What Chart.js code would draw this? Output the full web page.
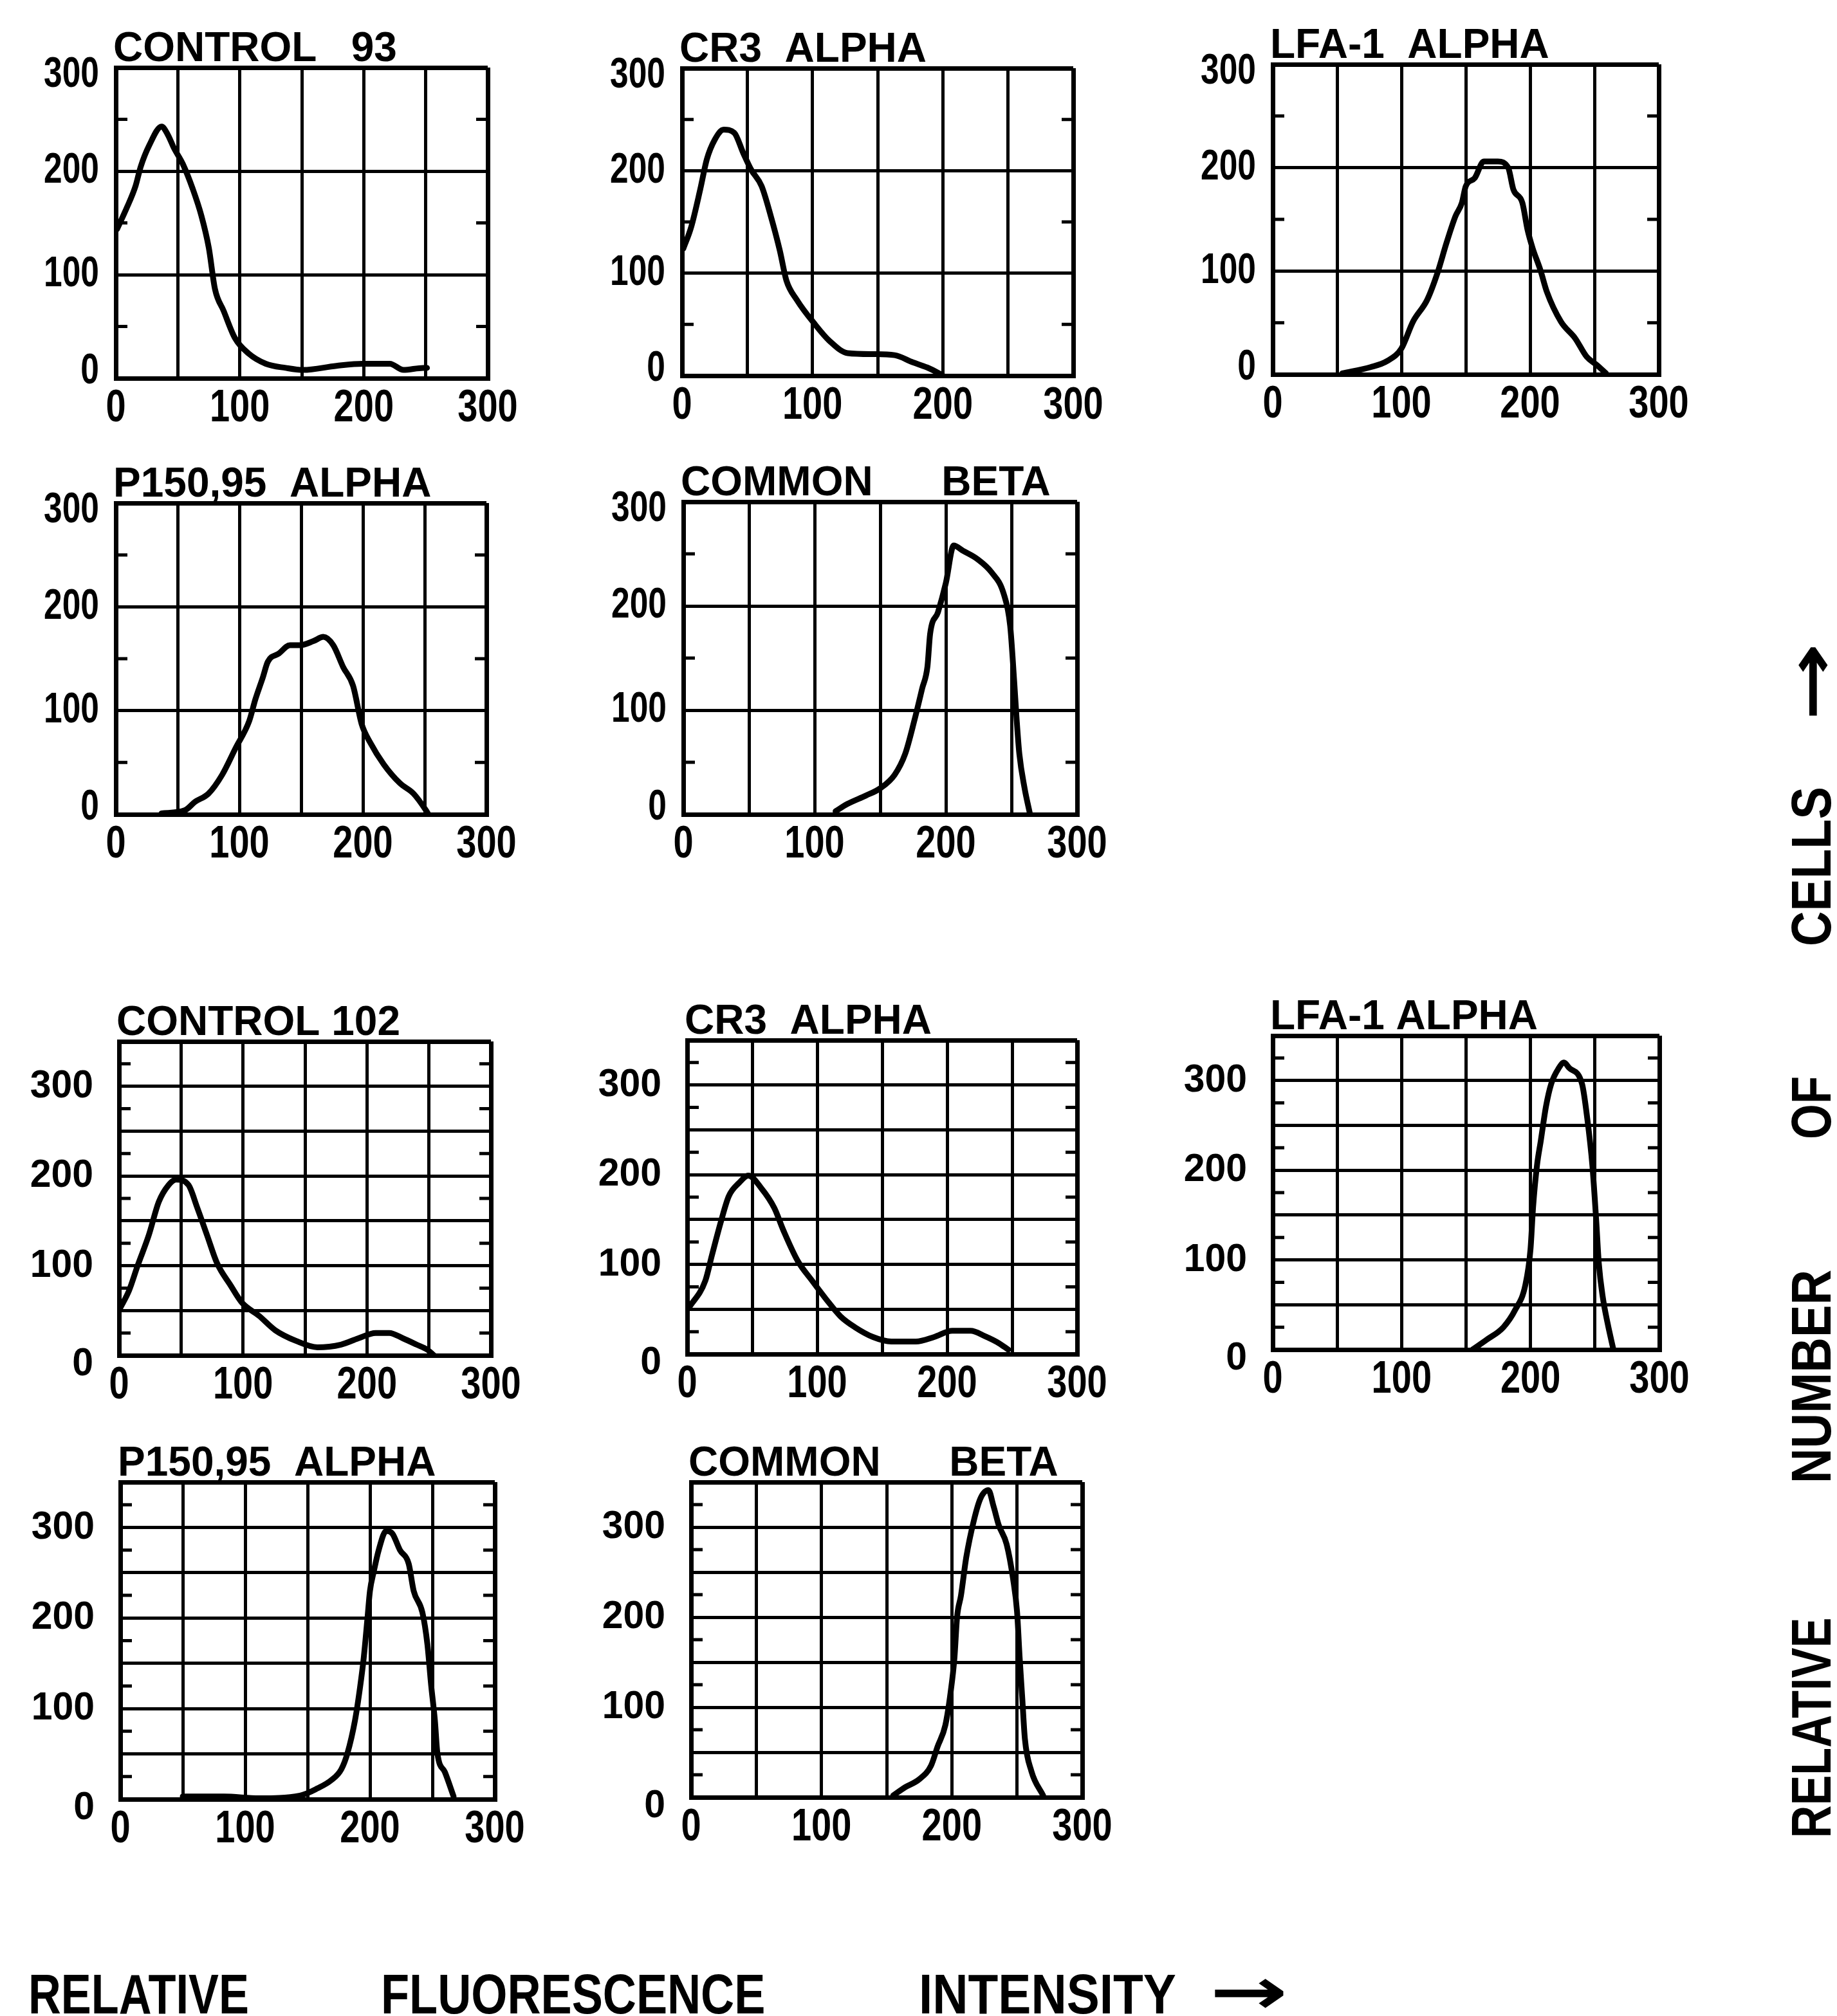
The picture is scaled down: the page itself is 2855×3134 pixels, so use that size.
<!DOCTYPE html>
<html>
<head>
<meta charset="utf-8">
<script src="https://cdn.jsdelivr.net/npm/chart.js@4.4.1/dist/chart.umd.min.js"></script>
<style>
html,body{margin:0;padding:0;background:#fff;}
body{width:2855px;height:3134px;position:relative;overflow:hidden;}
canvas.panel{position:absolute;}
.lbl{position:absolute;font-family:'Liberation Sans',Arial,sans-serif;font-weight:bold;font-size:88px;line-height:1;color:#000;white-space:nowrap;}
.h{transform-origin:0 50%;transform:translate(0,-50%) scaleX(0.8);}
.h.wide{transform:translate(0,-50%) scaleX(0.87);}
.h.mid{transform:translate(0,-50%) scaleX(0.82);}
.v{transform:translate(-50%,-50%) rotate(-90deg) scaleX(0.8);}
.v.wide{transform:translate(-50%,-50%) rotate(-90deg) scaleX(0.86);}
.arrow{font-family:'DejaVu Sans',sans-serif;font-weight:bold;font-size:100px;}
.h.arrow{transform:translate(0,-50%) scaleX(1.45);}
.v.arrow{transform:translate(-50%,-50%) rotate(-90deg) scaleX(1.45);}
</style>
</head>
<body>
<script>
// ---------- DATA ----------
const panelTitles = [
  'CONTROL   93', 'CR3  ALPHA', 'LFA-1  ALPHA', 'P150,95  ALPHA', 'COMMON      BETA',
  'CONTROL 102', 'CR3  ALPHA', 'LFA-1 ALPHA', 'P150,95  ALPHA', 'COMMON      BETA'
];
const xTickLabels = ['0', '100', '200', '300'];
const yTickLabels = ['0', '100', '200', '300'];
const yMaxTop = 300;      // first experiment panels
const yMaxBottom = 350;   // second experiment panels
const minorTop = [50, 150, 250];
const minorBottom = [25, 75, 125, 175, 225, 275, 325];

const control93X = [1, 9, 16, 20, 27, 37, 42, 47, 54, 62, 69, 75, 80, 87, 96, 107, 121, 137, 151, 178, 199, 221, 232, 248, 251];
const control93Y = [144, 165, 186, 204, 225, 243, 235, 222, 207, 183, 157, 126, 86, 65, 39, 24, 14, 10, 8, 12, 14, 14, 8, 10, 10];

const cr3TopX = [1, 7, 14, 19, 25, 32, 40, 47, 53, 61, 68, 75, 80, 88, 102, 113, 127, 147, 163, 177, 188, 196, 200];
const cr3TopY = [124, 145, 182, 211, 230, 240, 237, 217, 201, 185, 156, 122, 93, 74, 50, 34, 22, 21, 20, 13, 8, 3, 0];

const lfa1TopX = [54, 76, 89, 100, 109, 120, 128, 135, 142, 147, 150, 157, 164, 175, 183, 187, 194, 198, 202, 208, 213, 224, 235, 244, 252, 259];
const lfa1TopY = [1, 7, 13, 25, 51, 72, 98, 127, 153, 166, 182, 190, 206, 206, 200, 179, 166, 140, 122, 101, 80, 51, 35, 17, 9, 1];

const p150TopX = [37, 56, 64, 75, 86, 97, 108, 113, 119, 123, 132, 141, 149, 160, 168, 176, 184, 192, 199, 206, 217, 230, 241, 251, 253];
const p150TopY = [1, 4, 12, 20, 38, 64, 90, 111, 132, 147, 155, 163, 163, 167, 171, 163, 142, 124, 87, 69, 48, 30, 20, 4, 0];

const betaTopX = [116, 125, 139, 150, 161, 169, 176, 182, 186, 188, 194, 200, 206, 213, 224, 235, 244, 249, 252, 254, 256, 260, 264];
const betaTopY = [3, 10, 18, 25, 38, 58, 90, 121, 142, 173, 194, 222, 258, 253, 245, 232, 212, 181, 129, 90, 58, 25, 1];

const control102X = [1, 8, 15, 24, 32, 40, 46, 56, 63, 71, 79, 90, 99, 113, 126, 143, 160, 179, 193, 207, 218, 229, 240, 249, 254];
const control102Y = [53, 72, 100, 134, 171, 190, 196, 190, 165, 134, 103, 78, 59, 44, 28, 16, 9, 12, 19, 25, 25, 19, 12, 6, 0];

const cr3BotX = [1, 14, 19, 26, 32, 40, 47, 57, 67, 74, 85, 96, 107, 118, 129, 143, 157, 176, 190, 204, 218, 229, 240, 247];
const cr3BotY = [51, 82, 110, 148, 176, 191, 199, 185, 163, 138, 104, 82, 61, 42, 30, 19, 14, 14, 19, 26, 26, 20, 12, 5];

const lfa1BotX = [155, 166, 179, 188, 196, 200, 202, 205, 208, 212, 216, 222, 226, 230, 240, 244, 248, 251, 253, 256, 260, 264];
const lfa1BotY = [0, 11, 25, 44, 72, 112, 159, 205, 233, 271, 296, 314, 320, 314, 296, 258, 205, 143, 96, 59, 28, 2];

const p150BotX = [50, 83, 111, 144, 158, 169, 177, 182, 188, 192, 195, 198, 200, 203, 207, 213, 218, 224, 231, 235, 242, 246, 249, 252, 254, 260, 267];
const p150BotY = [3, 3, 1, 4, 12, 21, 33, 51, 87, 123, 156, 200, 230, 251, 275, 296, 293, 275, 260, 230, 206, 171, 126, 87, 51, 30, 3];

const betaBotX = [155, 164, 175, 184, 189, 195, 199, 202, 204, 207, 211, 217, 222, 228, 232, 236, 242, 247, 250, 252, 254, 256, 261, 270];
const betaBotY = [2, 11, 20, 35, 56, 80, 116, 155, 200, 224, 266, 308, 332, 341, 323, 302, 281, 242, 206, 155, 110, 65, 29, 2];

const seriesX = [control93X, cr3TopX, lfa1TopX, p150TopX, betaTopX, control102X, cr3BotX, lfa1BotX, p150BotX, betaBotX];
const seriesY = [control93Y, cr3TopY, lfa1TopY, p150TopY, betaTopY, control102Y, cr3BotY, lfa1BotY, p150BotY, betaBotY];

// ---------- LAYOUT (plot box in page pixels: left, top, right, bottom) ----------
const boxes = [
  [180, 105, 758, 588], [1060, 106, 1668, 584], [1978, 100, 2578, 582],
  [180, 782, 756, 1266], [1062, 780, 1674, 1266],
  [185, 1619, 763, 2107], [1068, 1617, 1674, 2105], [1978, 1610, 2579, 2098],
  [187, 2304, 769, 2797], [1074, 2304, 1682, 2794]
];

const FONT = "'Liberation Sans', Arial, sans-serif";

const titlePlugin = {
  id: 'panelTitle',
  afterDraw(chart, args, opts) {
    const {ctx, chartArea: a} = chart;
    ctx.save();
    ctx.fillStyle = '#000';
    ctx.font = 'bold 64px ' + FONT;
    ctx.textAlign = 'left';
    ctx.textBaseline = 'alphabetic';
    ctx.fillText(opts.text, a.left - 4, a.top - 10);
    ctx.restore();
  }
};
const minorPlugin = {
  id: 'minorMarks',
  beforeDatasetsDraw(chart, args, opts) {
    const {ctx, chartArea: a, scales} = chart;
    ctx.save();
    ctx.strokeStyle = '#000';
    ctx.lineWidth = 5;
    opts.values.forEach(v => {
      const py = scales.y.getPixelForValue(v);
      ctx.beginPath();
      ctx.moveTo(a.left, py); ctx.lineTo(a.left + 18, py);
      ctx.moveTo(a.right - 18, py); ctx.lineTo(a.right, py);
      ctx.stroke();
    });
    ctx.restore();
  }
};
// Tick labels placed with the library's scales (condensed digits as in the original)
const tickLabelPlugin = {
  id: 'tickLabels',
  afterDraw(chart, args, o) {
    const {ctx, chartArea: a, scales: {x, y}} = chart;
    ctx.save();
    ctx.fillStyle = '#000';
    ctx.textBaseline = 'middle';
    ctx.font = 'bold ' + o.xSize + 'px ' + FONT;
    ctx.textAlign = 'center';
    x.ticks.forEach(t => {
      const s = String(t.value);
      if (!xTickLabels.includes(s)) return;
      ctx.save();
      ctx.translate(x.getPixelForValue(t.value), a.bottom + o.xGap);
      ctx.scale(o.xStretch, 1);
      ctx.fillText(s, 0, 0);
      ctx.restore();
    });
    ctx.font = 'bold ' + o.ySize + 'px ' + FONT;
    ctx.textAlign = 'right';
    y.ticks.forEach(t => {
      const s = String(t.value);
      if (!yTickLabels.includes(s)) return;
      let dy = 0;
      if (o.second) { if (t.value === 0) dy = 14; }
      else { if (t.value === 0) dy = -10; if (t.value === y.max) dy = 12; }
      ctx.save();
      ctx.translate(a.left - o.yGap, y.getPixelForValue(t.value) + dy);
      ctx.scale(o.yStretch, 1);
      ctx.fillText(s, 0, 0);
      ctx.restore();
    });
    ctx.restore();
  }
};

function makePanel(i) {
  const [l, t, r, b] = boxes[i];
  const w = r - l, h = b - t;
  const L = 200, T = 120, R = 90, B = 130;
  const second = i >= 5;
  const yMax = second ? yMaxBottom : yMaxTop;
  const cv = document.createElement('canvas');
  cv.className = 'panel';
  cv.width = L + w + R; cv.height = T + h + B;
  cv.style.left = (l - L) + 'px'; cv.style.top = (t - T) + 'px';
  cv.style.width = cv.width + 'px'; cv.style.height = cv.height + 'px';
  document.body.appendChild(cv);
  const pts = seriesX[i].map((x, k) => ({x: x, y: seriesY[i][k]}));
  new Chart(cv, {
    type: 'line',
    data: {datasets: [{
      data: pts, borderColor: '#000', borderWidth: 9, pointRadius: 0,
      cubicInterpolationMode: 'monotone', fill: false,
      borderJoinStyle: 'round', borderCapStyle: 'round'
    }]},
    options: {
      responsive: false, animation: false, devicePixelRatio: 1,
      layout: {padding: {top: T, right: R, left: 0, bottom: 0}},
      plugins: {
        legend: {display: false}, tooltip: {enabled: false}, title: {display: false},
        panelTitle: {text: panelTitles[i]},
        minorMarks: {values: second ? minorBottom : minorTop},
        tickLabels: second
          ? {second: true, xSize: 70, xStretch: 0.8, xGap: 48, ySize: 62, yStretch: 0.95, yGap: 40}
          : {second: false, xSize: 70, xStretch: 0.8, xGap: 48, ySize: 66, yStretch: 0.78, yGap: 26}
      },
      scales: {
        x: {
          type: 'linear', min: 0, max: 300,
          afterFit: s => { s.height = B; },
          ticks: {stepSize: 50, autoSkip: false, display: false},
          grid: {color: '#000', drawTicks: false,
                 lineWidth: c => (c.tick && (c.tick.value === 0 || c.tick.value === 300)) ? 7 : 5},
          border: {display: true, color: '#000', width: 7}
        },
        y: {
          type: 'linear', min: 0, max: yMax,
          afterFit: s => { s.width = L; },
          ticks: {stepSize: 50, autoSkip: false, display: false},
          grid: {drawTicks: false,
                 color: c => (second || !c.tick || c.tick.value % 100 === 0) ? '#000' : 'rgba(0,0,0,0)',
                 lineWidth: c => (c.tick && (c.tick.value === 0 || c.tick.value === yMax)) ? 7 : 5},
          border: {display: true, color: '#000', width: 7}
        }
      }
    },
    plugins: [titlePlugin, minorPlugin, tickLabelPlugin]
  });
}
for (let i = 0; i < boxes.length; i++) makePanel(i);

// ---------- outer axis labels ----------
function addLabel(text, x, y, cls) {
  const d = document.createElement('div');
  d.className = 'lbl ' + cls;
  d.textContent = text;
  d.style.left = x + 'px'; d.style.top = y + 'px';
  document.body.appendChild(d);
  return d;
}
addLabel('RELATIVE', 44, 3100, 'h');
addLabel('FLUORESCENCE', 592, 3100, 'h mid');
addLabel('INTENSITY', 1428, 3100, 'h wide');
addLabel('→', 1880, 3096, 'h arrow');

addLabel('RELATIVE', 2815, 2686, 'v');
addLabel('NUMBER', 2815, 2140, 'v wide');
addLabel('OF', 2815, 1722, 'v');
addLabel('CELLS', 2815, 1347, 'v wide');
addLabel('→', 2815, 1060, 'v arrow');
</script>
</body>
</html>
